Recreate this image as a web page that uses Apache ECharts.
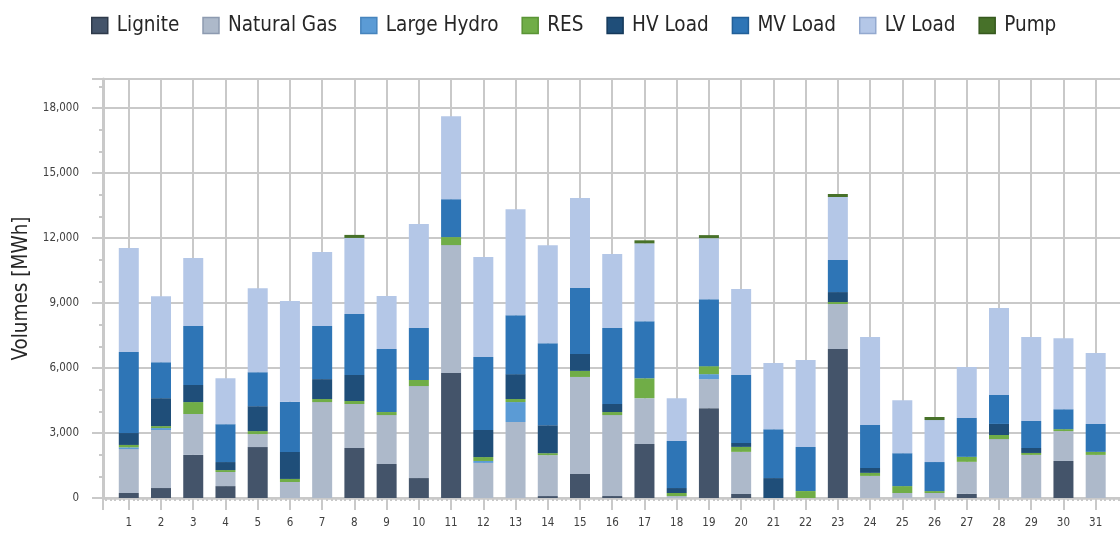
<!DOCTYPE html>
<html>
<head>
<meta charset="utf-8">
<script src="https://cdn.jsdelivr.net/npm/echarts@6/dist/echarts.min.js"></script>
<style>
  html, body { margin: 0; padding: 0; background: #fff; }
  #chart { width: 1120px; height: 537px; }
</style>
</head>
<body>
<div id="chart"></div>
<script>
  // day of month on the x axis
  const days = [1, 2, 3, 4, 5, 6, 7, 8, 9, 10, 11, 12, 13, 14, 15, 16, 17, 18, 19, 20, 21, 22, 23, 24, 25, 26, 27, 28, 29, 30, 31];

  // MWh per day
  const lignite = [230, 460, 1990, 550, 2350, 0, 0, 2310, 1570, 920, 5770, 0, 0, 90, 1110, 90, 2490, 0, 4150, 190, 0, 0, 6880, 0, 0, 0, 190, 0, 0, 1710, 0];
  const naturalGas = [2030, 2680, 1890, 650, 600, 740, 4430, 2030, 2260, 4250, 5910, 1620, 3510, 1890, 4480, 3740, 2120, 90, 1340, 1940, 0, 0, 2080, 1020, 230, 230, 1480, 2720, 1990, 1380, 1990];
  const largeHydro = [80, 90, 0, 0, 0, 0, 0, 0, 0, 0, 0, 90, 920, 0, 0, 0, 0, 0, 230, 0, 0, 0, 0, 0, 0, 0, 0, 0, 0, 0, 0];
  const res = [110, 90, 550, 90, 140, 140, 140, 140, 140, 280, 370, 180, 140, 90, 280, 140, 920, 140, 370, 230, 0, 320, 90, 140, 320, 90, 230, 190, 90, 90, 140];
  const hvLoad = [550, 1290, 790, 370, 1150, 1250, 920, 1200, 0, 0, 0, 1250, 1150, 1290, 780, 370, 0, 230, 0, 180, 920, 0, 460, 230, 0, 0, 0, 510, 230, 0, 0];
  const mvLoad = [3740, 1660, 2720, 1750, 1570, 2310, 2450, 2820, 2910, 2400, 1750, 3370, 2720, 3790, 3050, 3510, 2630, 2170, 3090, 3140, 2260, 2030, 1480, 1980, 1520, 1340, 1800, 1340, 1250, 920, 1290];
  const lvLoad = [4800, 3050, 3140, 2120, 3880, 4660, 3420, 3510, 2450, 4800, 3830, 4620, 4890, 4520, 4150, 3420, 3600, 1980, 2820, 3970, 3050, 4020, 2910, 4060, 2450, 1940, 2350, 4020, 3880, 3280, 3280];
  const pump = [0, 0, 0, 0, 0, 0, 0, 140, 0, 0, 0, 0, 0, 0, 0, 0, 140, 0, 140, 0, 0, 0, 140, 0, 0, 140, 0, 0, 0, 0, 0];

  const yTicks = [0, 3000, 6000, 9000, 12000, 15000, 18000];
  const yMax = 19350;

  const FONT = "'DejaVu Sans Condensed', 'DejaVu Sans', sans-serif";
  const GRID_GREY = '#c9c9c9';

  const seriesDefs = [
    { name: 'Lignite', data: lignite, color: '#44546a', border: '#2e3a4a' },
    { name: 'Natural Gas', data: naturalGas, color: '#adb9ca', border: '#8d9ab0' },
    { name: 'Large Hydro', data: largeHydro, color: '#5b9bd5', border: '#4684bd' },
    { name: 'RES', data: res, color: '#70ad47', border: '#5a9435' },
    { name: 'HV Load', data: hvLoad, color: '#1f4e79', border: '#14385a' },
    { name: 'MV Load', data: mvLoad, color: '#2e75b6', border: '#225f98' },
    { name: 'LV Load', data: lvLoad, color: '#b4c7e7', border: '#93a9cf' },
    { name: 'Pump', data: pump, color: '#477129', border: '#36591e' },
  ];

  // grid 0 holds the frame (value x axis), grid 1 the bars (category x axis);
  // integer values of the first land on the band centres of the second
  const unit = 32.23;
  const xMin = 0.2;
  const gridLeft = 103;
  const gridRight = -4; // push the closing split line off the canvas
  const xMax = xMin + (1120 - gridLeft - gridRight) / unit;
  const barGridLeft = gridLeft + (0.5 - xMin) * unit;
  const barGridRight = 1120 - (barGridLeft + days.length * unit);

  const tickLabel = {
    fontSize: 11.5,
    color: '#404040',
    fontFamily: FONT,
  };

  const chart = echarts.init(document.getElementById('chart'));

  chart.setOption({
    backgroundColor: '#fff',
    animation: false,
    textStyle: { fontFamily: FONT },
    legend: {
      top: 10,
      left: 86,
      itemWidth: 16,
      itemHeight: 16,
      itemGap: 23,
      icon: 'rect',
      textStyle: { fontSize: 20.5, color: '#262626', fontFamily: FONT, padding: [0, 0, 0, 4] },
      data: seriesDefs.map((s) => ({
        name: s.name,
        itemStyle: { color: s.color, borderColor: s.border, borderWidth: 1.5 },
      })),
    },
    grid: [
      { left: gridLeft, right: gridRight, top: 79, bottom: 39, outerBoundsMode: 'none', containLabel: false },
      { left: barGridLeft, right: barGridRight, top: 79, bottom: 39, outerBoundsMode: 'none', containLabel: false },
    ],
    xAxis: [
      {
        type: 'value',
        gridIndex: 0,
        min: xMin,
        max: xMax,
        minInterval: 1,
        maxInterval: 1,
        axisLine: { show: true, onZero: false, lineStyle: { color: GRID_GREY, width: 2.5 } },
        axisTick: { show: true, length: 12, lineStyle: { color: GRID_GREY, width: 2 } },
        minorTick: { show: true, splitNumber: 7, length: 3, lineStyle: { color: GRID_GREY, width: 2 } },
        splitLine: { show: true, lineStyle: { color: GRID_GREY, width: 2 } },
        axisLabel: Object.assign({
          margin: 19,
          formatter: (v) => (Number.isInteger(v) && v >= 1 && v <= days.length ? String(days[v - 1]) : ''),
        }, tickLabel),
      },
      {
        type: 'category',
        gridIndex: 1,
        data: days.map(String),
        show: false,
      },
    ],
    yAxis: [
      {
        type: 'value',
        gridIndex: 0,
        min: 0,
        max: yMax,
        interval: 3000,
        name: 'Volumes [MWh]',
        nameLocation: 'middle',
        nameGap: 70,
        nameTextStyle: { fontSize: 20.5, color: '#262626', fontFamily: FONT },
        axisLine: { show: true, lineStyle: { color: GRID_GREY, width: 3 } },
        axisTick: { show: true, length: 11, lineStyle: { color: GRID_GREY, width: 2 } },
        minorTick: { show: true, splitNumber: 3, length: 4, lineStyle: { color: GRID_GREY, width: 2 } },
        splitLine: { show: true, lineStyle: { color: GRID_GREY, width: 2 } },
        axisLabel: Object.assign({
          margin: 24,
          formatter: (v) => (yTicks.includes(v) ? v.toLocaleString('en-US') : ''),
        }, tickLabel),
      },
      {
        type: 'value',
        gridIndex: 1,
        min: 0,
        max: yMax,
        show: false,
        splitLine: { show: false },
      },
    ],
    series: seriesDefs.map((s) => ({
      name: s.name,
      type: 'bar',
      stack: 'total',
      xAxisIndex: 1,
      yAxisIndex: 1,
      barWidth: 20,
      itemStyle: { color: s.color },
      emphasis: { disabled: true },
      data: s.data,
    })),
  });
</script>
</body>
</html>
